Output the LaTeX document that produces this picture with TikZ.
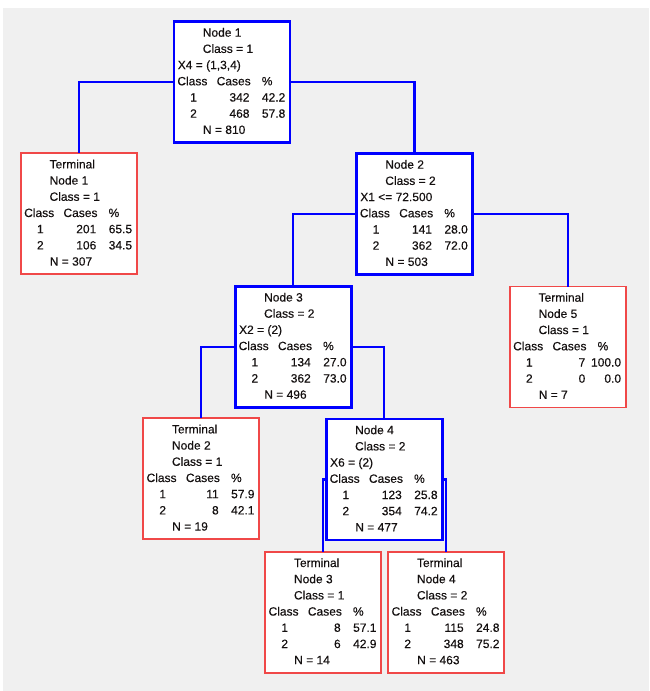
\documentclass[tikz,border=0pt]{standalone}
\usepackage{fontspec}
\setmainfont{Liberation Sans}[FakeBold=0.25]
\definecolor{bggray}{RGB}{240,240,240}
\definecolor{termred}{RGB}{240,72,72}
\definecolor{txtcol}{RGB}{20,16,16}
\newcommand\cartbox[8]{%
  \node[#4] (#1) at (#2,#3) {};
  \node[lbl,anchor=base west] (#1-a) at ([shift={(28.8,15.2)}]#1.north west) {#5};
  \node[lbl,anchor=base west] (#1-b) at ([shift={(28.8,31.4)}]#1.north west) {#6};
  \node[lbl,anchor=base west] (#1-c) at ([shift={(#8,47.6)}]#1.north west) {#7};
}
\newcommand\carttab[6]{%
  \node[lbl,anchor=base west] (#1-h1) at ([shift={(3.4,63.8)}]#1.north west) {Class};
  \node[lbl,anchor=base west] (#1-h2) at ([shift={(42.7,63.8)}]#1.north west) {Cases};
  \node[lbl,anchor=base west] (#1-h3) at ([shift={(87.8,63.8)}]#1.north west) {\%};
  \node[lbl,anchor=base] (#1-r1a) at ([shift={(19.5,80)}]#1.north west) {1};
  \node[lbl,anchor=base east] (#1-r1b) at ([shift={(75.5,80)}]#1.north west) {#2};
  \node[lbl,anchor=base east] (#1-r1c) at ([shift={(111.3,80)}]#1.north west) {#3};
  \node[lbl,anchor=base] (#1-r2a) at ([shift={(19.5,96.2)}]#1.north west) {2};
  \node[lbl,anchor=base east] (#1-r2b) at ([shift={(75.5,96.2)}]#1.north west) {#4};
  \node[lbl,anchor=base east] (#1-r2c) at ([shift={(111.3,96.2)}]#1.north west) {#5};
  \node[lbl,anchor=base west] (#1-n) at ([shift={(29,112.4)}]#1.north west) {N = #6};
}
\begin{document}
\begin{tikzpicture}[x=1pt,y=-1pt,
  splitbox/.style={draw=blue, line width=2.8pt, fill=white, minimum width=116pt,
    minimum height=121pt, inner sep=0pt, outer sep=0pt, anchor=north west},
  termbox/.style={draw=termred, line width=1.6pt, fill=white, minimum width=116pt,
    minimum height=121pt, inner sep=0pt, outer sep=0pt, anchor=north west},
  lbl/.style={inner sep=0pt, outer sep=0pt, font=\fontsize{12}{14}\selectfont, text=txtcol},
  conn/.style={draw=blue, line width=2.3pt}]
\useasboundingbox (0,0) rectangle (649,691);
\fill[white] (0,0) rectangle (649,691);
\fill[bggray] (3,8) rectangle (649,691);

\cartbox{n1}{174}{21.5}{splitbox}{Node 1}{Class = 1}{X4 = (1,3,4)}{3.8}
\carttab{n1}{342}{42.2}{468}{57.8}{810}

\cartbox{t1}{20.8}{153.2}{termbox}{Terminal}{Node 1}{Class = 1}{28.8}
\carttab{t1}{201}{65.5}{106}{34.5}{307}

\cartbox{n2}{356.5}{153.5}{splitbox}{Node 2}{Class = 2}{X1 <= 72.500}{3.8}
\carttab{n2}{141}{28.0}{362}{72.0}{503}

\cartbox{n3}{235.3}{286.3}{splitbox}{Node 3}{Class = 2}{X2 = (2)}{3.8}
\carttab{n3}{134}{27.0}{362}{73.0}{496}

\cartbox{t5}{509.8}{286.5}{termbox}{Terminal}{Node 5}{Class = 1}{28.8}
\carttab{t5}{7}{100.0}{0}{0.0}{7}

\cartbox{t2}{143.2}{418.2}{termbox}{Terminal}{Node 2}{Class = 1}{28.8}
\carttab{t2}{11}{57.9}{8}{42.1}{19}

\cartbox{n4}{326.3}{419}{splitbox}{Node 4}{Class = 2}{X6 = (2)}{3.8}
\carttab{n4}{123}{25.8}{354}{74.2}{477}

\cartbox{t3}{265.2}{551.8}{termbox}{Terminal}{Node 3}{Class = 1}{28.8}
\carttab{t3}{8}{57.1}{6}{42.9}{14}

\cartbox{t4}{388.2}{551.8}{termbox}{Terminal}{Node 4}{Class = 2}{28.8}
\carttab{t4}{115}{24.8}{348}{75.2}{463}

\draw[conn] (n1.west) -| (t1.north);
\draw[conn] (n1.east) -| (n2.north);
\draw[conn] (n2.west) -| (n3.north);
\draw[conn] (n2.east) -| (t5.north);
\draw[conn] (n3.west) -| (t2.north);
\draw[conn] (n3.east) -| (n4.north);
\draw[conn] (n4.west) -| (t3.north);
\draw[conn] (n4.east) -| (t4.north);
\end{tikzpicture}
\end{document}
